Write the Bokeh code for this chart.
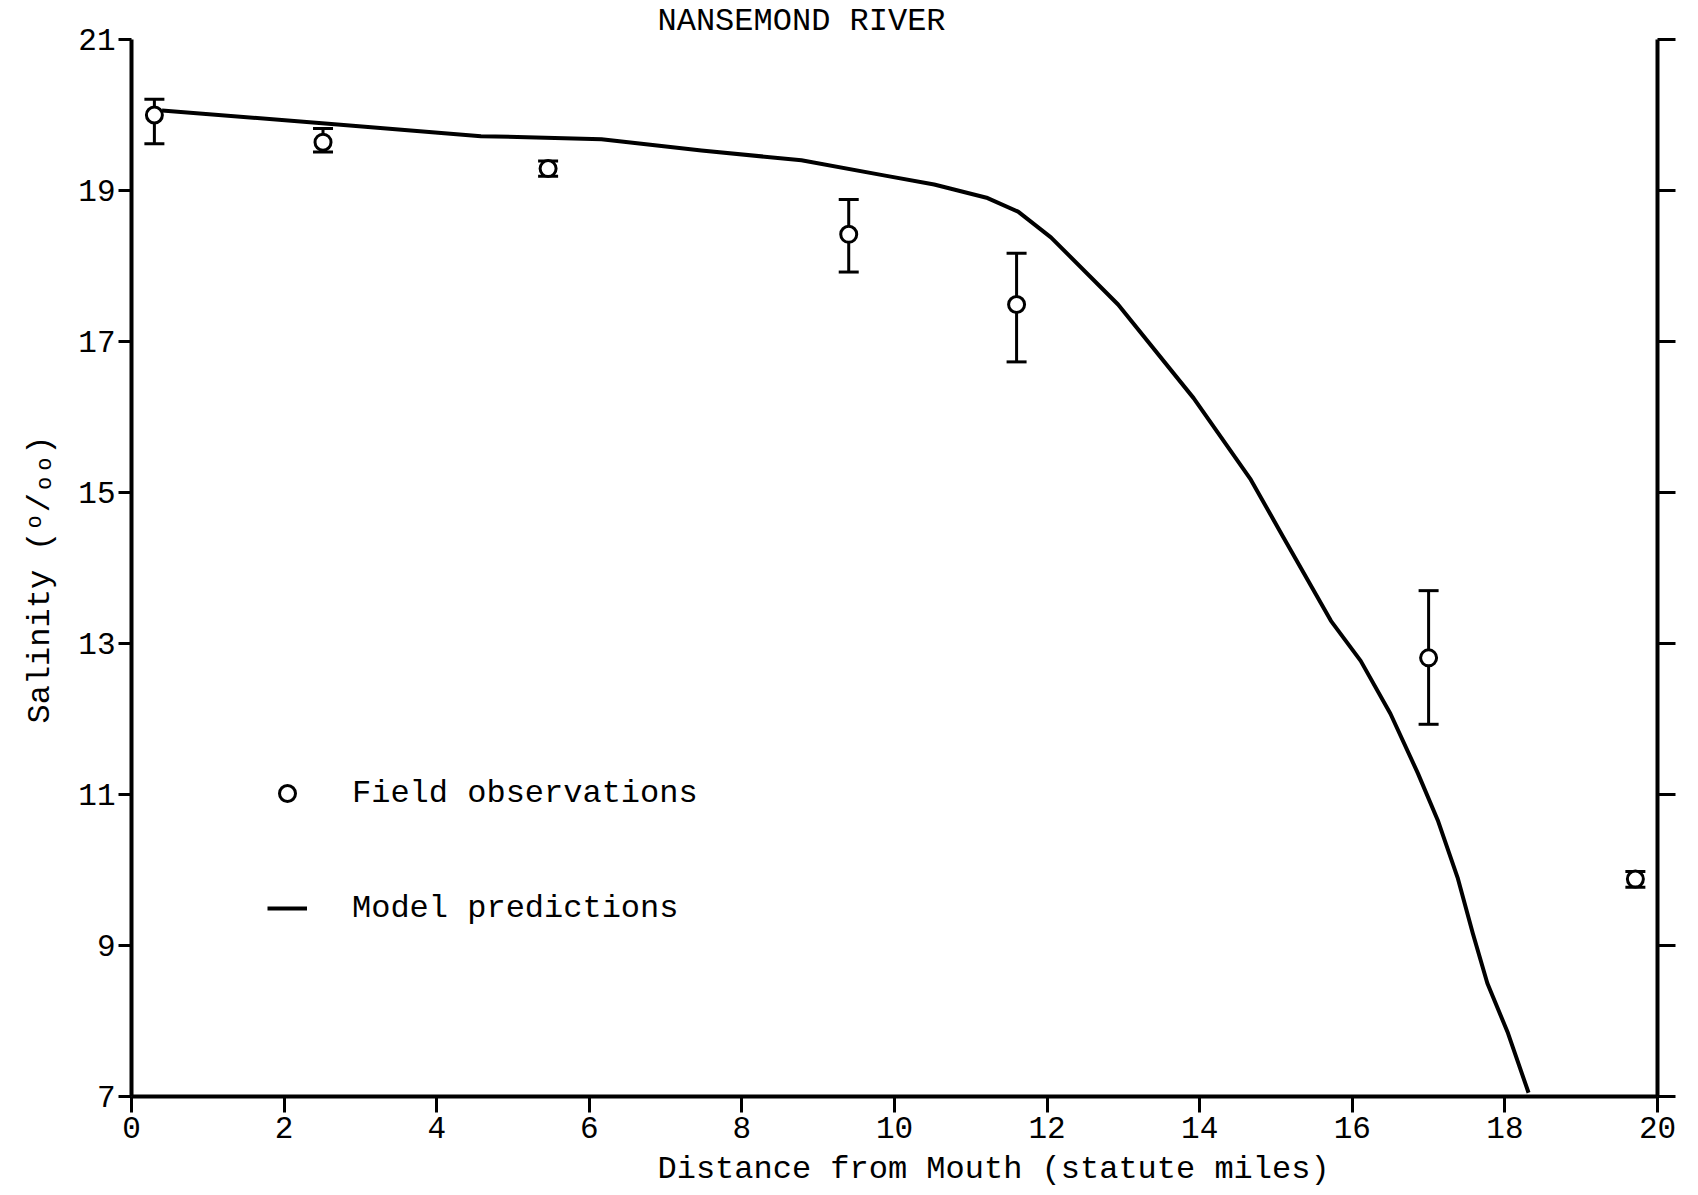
from bokeh.plotting import figure
from bokeh.models import (Range1d, FixedTicker, LinearAxis, Whisker, TeeHead,
                          ColumnDataSource, Legend, LegendItem, Title)
from bokeh.embed import file_html
from bokeh.resources import INLINE

# ---- data ----
obs_x = [0.30, 2.51, 5.46, 9.40, 11.60, 17.00, 19.71]
obs_y = [20.00, 19.64, 19.29, 18.42, 17.49, 12.81, 9.88]
obs_lo = [19.62, 19.51, 19.19, 17.92, 16.73, 11.93, 9.77]
obs_hi = [20.21, 19.82, 19.39, 18.88, 18.17, 13.70, 9.98]

model_x = [0.40, 2.62, 4.58, 6.16, 7.47, 8.78, 9.86, 10.52, 11.22, 11.62,
           12.05, 12.93, 13.92, 14.67, 15.10, 15.72, 16.11, 16.50, 16.86,
           17.12, 17.38, 17.58, 17.77, 18.04, 18.31]
model_y = [20.06, 19.88, 19.72, 19.68, 19.53, 19.40, 19.20, 19.08, 18.90, 18.72,
           18.38, 17.49, 16.25, 15.17, 14.40, 13.30, 12.77, 12.07, 11.28,
           10.66, 9.90, 9.16, 8.50, 7.84, 7.05]

x_ticks = [0, 2, 4, 6, 8, 10, 12, 14, 16, 18, 20]
y_ticks = [7, 9, 11, 13, 15, 17, 19, 21]

title_text = "NANSEMOND RIVER"
x_label = "Distance from Mouth (statute miles)"
y_label = "Salinity (\u1d52/\u2092\u2092)"
legend_labels = ["Field observations", "Model predictions"]

FONT = "Liberation Mono"

p = figure(width=1698, height=1195, x_range=Range1d(0, 20), y_range=Range1d(7, 21),
           output_backend="svg", toolbar_location=None,
           min_border_left=131, min_border_right=41, min_border_top=38,
           min_border_bottom=99, background_fill_color="white",
           border_fill_color="white")
p.outline_line_color = None
p.xgrid.visible = False
p.ygrid.visible = False

p.title.text = title_text
p.title.text_font = FONT
p.title.text_font_size = "32px"
p.title.text_font_style = "normal"
p.title.text_color = "black"
p.title.align = "left"
p.title.offset = 526
p.title.standoff = 0

# axes
xa = p.xaxis[0]
xa.ticker = FixedTicker(ticks=x_ticks)
xa.axis_line_width = 4
xa.axis_line_color = "black"
xa.major_tick_line_width = 3
xa.major_tick_line_color = "black"
xa.major_tick_out = 16
xa.major_tick_in = 0
xa.minor_tick_line_color = None
xa.major_label_text_font = FONT
xa.major_label_text_font_size = "31px"
xa.major_label_text_color = "black"
xa.major_label_standoff = 4

ya = p.yaxis[0]
ya.ticker = FixedTicker(ticks=y_ticks)
ya.axis_line_width = 4
ya.axis_line_color = "black"
ya.major_tick_line_width = 3
ya.major_tick_line_color = "black"
ya.major_tick_out = 13
ya.major_tick_in = 0
ya.minor_tick_line_color = None
ya.major_label_text_font = FONT
ya.major_label_text_font_size = "31px"
ya.major_label_text_color = "black"
ya.major_label_standoff = 3

ra = LinearAxis(ticker=FixedTicker(ticks=y_ticks),
                major_label_overrides={t: "" for t in y_ticks},
                major_tick_out=18, major_tick_in=0, axis_line_width=4,
                axis_line_color="black", major_tick_line_color="black",
                major_tick_line_width=3, minor_tick_line_color=None)
p.add_layout(ra, "right")

# axis titles (placed off-centre as in the original)
xt = Title(text=x_label, text_font=FONT, text_font_size="32px",
           text_font_style="normal", text_color="black", align="left",
           offset=526, standoff=16)
p.add_layout(xt, "below")
yt = Title(text=y_label, text_font=FONT, text_font_size="32px",
           text_font_style="normal", text_color="black", align="left",
           offset=373, standoff=34)
p.add_layout(yt, "left")

# model curve
ln = p.line(model_x, model_y, line_color="black", line_width=4,
            line_join="round")

# field observations
src = ColumnDataSource(dict(x=obs_x, y=obs_y, lo=obs_lo, hi=obs_hi))
wh = Whisker(base="x", upper="hi", lower="lo", dimension="height", source=src,
             line_color="black", line_width=3,
             upper_head=TeeHead(size=20, line_width=3, line_color="black"),
             lower_head=TeeHead(size=20, line_width=3, line_color="black"))
p.add_layout(wh)
circ = p.scatter("x", "y", source=src, marker="circle", size=16,
                 fill_color="white", line_color="black", line_width=3)

legend = Legend(items=[LegendItem(label=legend_labels[0], renderers=[circ]),
                       LegendItem(label=legend_labels[1], renderers=[ln])],
                location=(136, 168), orientation="vertical",
                border_line_color=None, background_fill_alpha=0,
                label_text_font=FONT, label_text_font_size="32px",
                label_text_color="black",
                glyph_width=40, glyph_height=40, label_height=40,
                spacing=75, padding=0, margin=0, label_standoff=45)
p.add_layout(legend)

open("out.html", "w").write(file_html(p, INLINE))
